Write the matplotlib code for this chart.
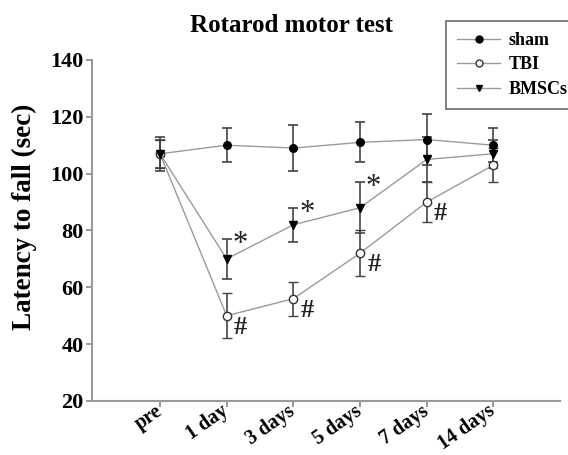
import matplotlib
matplotlib.use('Agg')
import matplotlib.pyplot as plt
from matplotlib.lines import Line2D

# time points
timepoints = ['pre', '1 day', '3 days', '5 days', '7 days', '14 days']

# group means and error (sec)
sham = [107, 110, 109, 111, 112, 110]
sham_err = [6, 6, 8, 7, 9, 6]
tbi = [107, 50, 56, 72, 90, 103]
tbi_err = [5, 8, 6, 8, 7, 6]
bmsc = [107, 70, 82, 88, 105, 107]
bmsc_err = [5, 7, 6, 9, 8, 5]

# significance marks
star_idx = [1, 2, 3]
hash_idx = [1, 2, 3, 4]

plt.rcParams['font.family'] = ['Liberation Serif', 'DejaVu Serif']
plt.rcParams['font.weight'] = 'bold'

fig = plt.figure(figsize=(5.68, 4.55), dpi=100)
ax = fig.add_axes([0.162, 0.1187, 0.824, 0.7495])

x = list(range(len(timepoints)))
line_col = '#9a9a9a'
err_kw = dict(ecolor='#444444', elinewidth=1.2, capsize=3.5, capthick=1.2)

ax.errorbar(x, sham, yerr=sham_err, color=line_col, lw=1, marker='o', ms=5.5,
            mfc='black', mec='black', **err_kw)
ax.errorbar(x, tbi, yerr=tbi_err, color=line_col, lw=1, marker='o', ms=6,
            mfc='white', mec='#333333', mew=1, **err_kw)
ax.errorbar(x, bmsc, yerr=bmsc_err, color=line_col, lw=1, marker='v', ms=6,
            mfc='black', mec='black', **err_kw)

# significance symbols
for i in star_idx:
    ax.text(i + 0.2, bmsc[i] + bmsc_err[i] - 2, '*', fontsize=22,
            ha='center', va='center', color='#222222', fontweight='normal')
for i in hash_idx:
    ax.text(i + 0.21, tbi[i] - 4, '#', fontsize=19,
            ha='center', va='center', color='#222222', fontweight='bold')

ax.set_xlim(-1.02, 6.0)
ax.set_ylim(20, 140)
ax.set_yticks(range(20, 141, 20))
ax.set_xticks(x)
ax.set_xticklabels(timepoints, rotation=35, ha='right', va='center',
                   rotation_mode='anchor', fontsize=14.5, fontweight='bold')
ax.tick_params(axis='y', labelsize=16, length=4, width=1.2, color='#888888', pad=2)
ax.tick_params(axis='x', length=4, width=1.2, color='#888888', pad=2)
for lab in ax.get_yticklabels():
    lab.set_fontweight('bold')

for side in ['top', 'right']:
    ax.spines[side].set_visible(False)
for side in ['left', 'bottom']:
    ax.spines[side].set_color('#999999')
    ax.spines[side].set_linewidth(1.5)

ax.set_ylabel('Latency to fall (sec)', fontsize=19.5, fontweight='bold')
ax.yaxis.set_label_coords(-0.117, 0.54)
fig.text(0.514, 0.945, 'Rotarod motor test', fontsize=18, fontweight='bold',
         ha='center', va='center')

handles = [
    Line2D([], [], color=line_col, lw=1, marker='o', ms=5, mfc='black', mec='black'),
    Line2D([], [], color=line_col, lw=1, marker='o', ms=5, mfc='white', mec='#333333'),
    Line2D([], [], color=line_col, lw=1, marker='v', ms=5, mfc='black', mec='black'),
]
leg = fig.legend(handles, ['sham', 'TBI', 'BMSCs'], loc='upper left',
                 bbox_to_anchor=(446 / 568, 1 - 21 / 455), frameon=True,
                 fancybox=False, edgecolor='#444444', fontsize=13,
                 handlelength=2.4, handletextpad=0.45, borderpad=0.6,
                 labelspacing=0.42, borderaxespad=0)
leg.get_frame().set_linewidth(1.2)
for t in leg.get_texts():
    t.set_fontweight('bold')

fig.savefig('out.png', dpi=100)
